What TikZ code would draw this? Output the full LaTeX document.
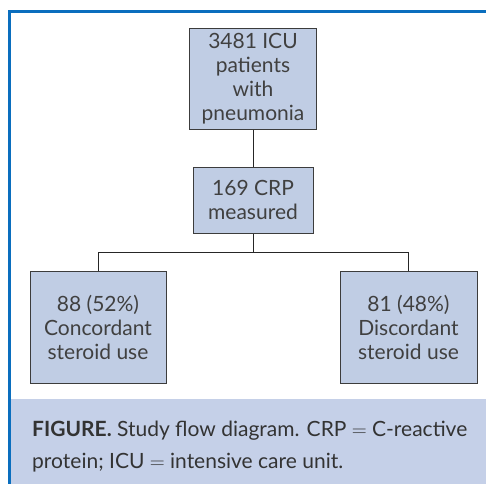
\documentclass[tikz,border=0pt]{standalone}
\usepackage{fontspec}
\setmainfont{Lato}
\definecolor{frameblue}{RGB}{10,110,190}
\definecolor{boxfill}{RGB}{192,205,228}
\definecolor{capfill}{RGB}{197,208,232}
\definecolor{boxline}{RGB}{60,60,60}
\begin{document}
\begin{tikzpicture}[x=1pt,y=-1pt,
  flowbox/.style={draw=boxline,line width=1pt,fill=boxfill,align=center,
    font=\fontsize{21}{24}\selectfont,text=black!75,inner sep=0pt},
  link/.style={draw=black!85,line width=0.8pt}]
\useasboundingbox (0,0) rectangle (486,484);
\fill[white] (0,0) rectangle (486,484);
\fill[capfill] (11,399) rectangle (486,484);
\draw[frameblue,line width=3pt] (486,11.5) -- (9.5,11.5) -- (9.5,484);
\node[flowbox,minimum width=127pt,minimum height=100pt] (pat) at (253,79) {3481 ICU\\patients\\with\\pneumonia};
\node[flowbox,minimum width=120pt,minimum height=66pt] (crp) at (253,200) {169 CRP\\measured};
\node[flowbox,minimum width=136pt,minimum height=112pt] (conc) at (98,327) {88 (52\%)\\Concordant\\steroid use};
\node[flowbox,minimum width=137pt,minimum height=112pt] (disc) at (408.5,327) {81 (48\%)\\Discordant\\steroid use};
\coordinate (split) at (253,252);
\draw[link] (pat.south) -- (crp.north);
\draw[link] (crp.south) -- (split);
\draw[link] (split) -| (conc.north);
\draw[link] (split) -| (disc.north);
\node[anchor=north west,align=left,inner sep=0pt,font=\fontsize{21}{32}\selectfont,text=black!80] (cap) at (32,421)
  {\textbf{FIGURE.} Study flow diagram. CRP $=$ C-reactive\\protein; ICU $=$ intensive care unit.};
\end{tikzpicture}
\end{document}
